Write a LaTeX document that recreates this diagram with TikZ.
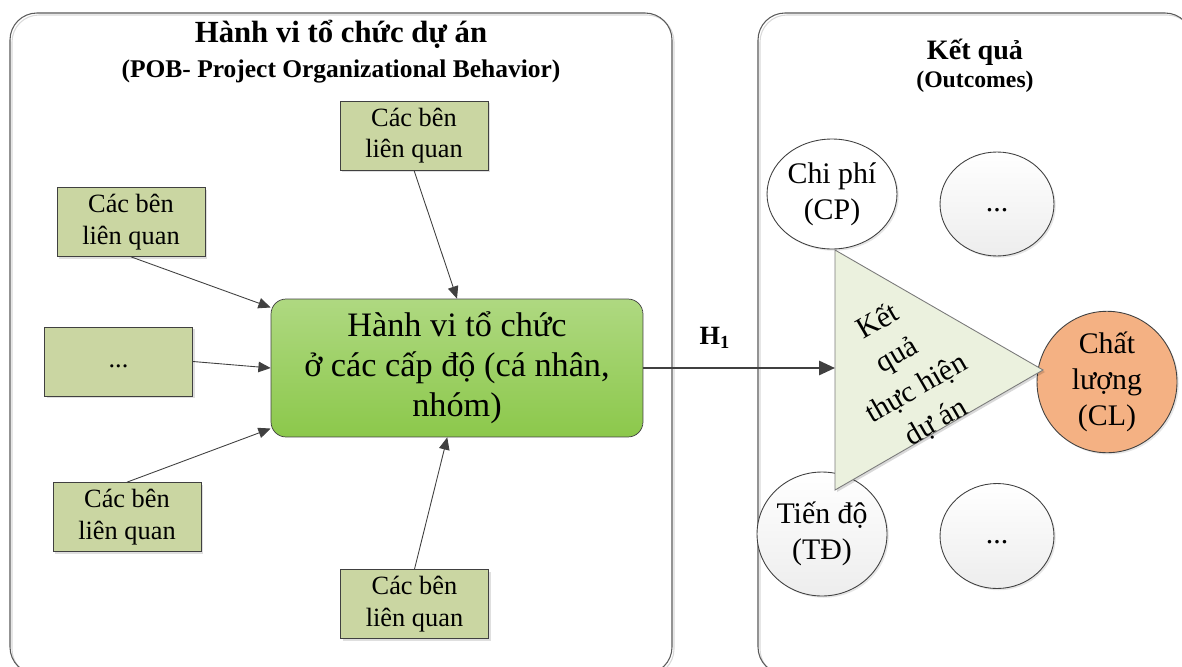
\documentclass[tikz,border=0pt]{standalone}
\usepackage{fontspec}
\setmainfont{Liberation Serif}
\usetikzlibrary{arrows.meta, shapes.geometric, shadows, positioning}
\definecolor{frame}{HTML}{595959}
\definecolor{ghost}{HTML}{D9D9D9}
\definecolor{olive}{HTML}{CAD6A2}
\definecolor{leaf}{HTML}{8CC84B}
\definecolor{pale}{HTML}{EBF1DE}
\definecolor{mist}{HTML}{EDEDED}
\definecolor{peach}{HTML}{F4B183}
\definecolor{ink}{HTML}{404040}
\tikzset{
  panel/.style={draw=frame, line width=0.6pt, rounded corners=0.54cm},
  stake/.style={draw=ink, fill=olive, minimum width=2.96cm, minimum height=1.38cm, inner sep=0pt, align=center,
    font=\fontsize{15}{18}\selectfont, drop shadow={shadow xshift=1.2pt, shadow yshift=-1.2pt, opacity=0.25}},
  core/.style={draw=ink, top color=leaf!70!white, bottom color=leaf, rounded corners=0.3cm, minimum width=7.44cm,
    minimum height=2.76cm, align=center, font=\fontsize{19.5}{22.7}\selectfont},
  oval/.style={ellipse, draw=ink, line width=0.5pt, inner sep=0pt, align=center, font=\fontsize{17}{20.5}\selectfont,
    drop shadow={shadow xshift=1pt, shadow yshift=-1pt, opacity=0.2}},
  feed/.style={draw=ink, line width=0.5pt, -{Triangle[length=7pt, width=6pt]}},
  ttl/.style={font=\fontsize{16}{18}\selectfont\bfseries},
  sub/.style={font=\fontsize{13.5}{16}\selectfont\bfseries}
}

\begin{document}
\begin{tikzpicture}[x=0.02cm, y=-0.02cm]
  \useasboundingbox (0,0) rectangle (1182,666);
  % two panels, cut at the page edge
  \begin{scope}
    \clip (0,0) rectangle (1182,666);
    \foreach \xa/\xb in {10/672, 758/1192}{
      \draw[panel, draw=ghost] (\xa+2,15) rectangle (\xb+2,676);
      \draw[panel] (\xa,13) rectangle (\xb,674);}
  \end{scope}
  \node[ttl, font=\fontsize{17.5}{20}\selectfont\bfseries, anchor=base] (titleL) at (341,42) {Hành vi tổ chức dự án};
  \node[sub, font=\fontsize{14.5}{16}\selectfont\bfseries, anchor=base] (subL) at (341,77) {(POB- Project Organizational Behavior)};
  \node[ttl] (titleR) at (975,52) {Kết quả};
  \node[sub] (subR) at (975,82) {(Outcomes)};

  % behaviour box and the parties around it
  \node[core] (main) at (457,368) {Hành vi tổ chức\\ở các cấp độ (cá nhân,\\nhóm)};
  \foreach \nm/\x/\y/\tx in {sA/414/135.5/{Các bên\\liên quan}, sB/131/222/{Các bên\\liên quan},
      sC/118.5/361.5/{\strut...}, sD/127/517/{Các bên\\liên quan}, sE/414.5/604/{Các bên\\liên quan}}
    \node[stake] (\nm) at (\x,\y) {\tx};
  \foreach \s/\e in {sA.south/main.90, sB.south/main.162, sC.east/main.west, sD.north/main.198, sE.north/main.262}
    \draw[feed] (\s) -- (\e);

  % outcomes
  \node[oval, fill=white, minimum width=2.6cm, minimum height=2.2cm] (cp) at (832,194) {Chi phí\\(CP)};
  \node[oval, top color=white, bottom color=mist, minimum width=2.28cm, minimum height=2.08cm] (o1) at (997,204) {\strut...};
  \node[oval, top color=white, bottom color=mist, minimum width=2.6cm, minimum height=2.48cm] (td) at (822,534) {Tiến độ\\(TĐ)};
  \node[oval, top color=white, bottom color=mist, minimum width=2.28cm, minimum height=2.1cm] (o2) at (997,536) {\strut...};
  \node[oval, fill=peach, minimum width=2.8cm, minimum height=2.6cm] (cl) at (1107,382) {Chất\\lượng\\(CL)};
  \coordinate (tA) at (835,250); \coordinate (tB) at (835,490); \coordinate (tC) at (1043,370);
  \coordinate (kqin) at (835,368);
  \fill[black, opacity=0.15] ([shift={(2,2)}]tA) -- ([shift={(2,2)}]tC) -- ([shift={(2,2)}]tB) -- cycle;
  \draw[draw=frame!80, fill=pale, line width=0.5pt] (tA) -- (tC) -- (tB) -- cycle;
  \node[rotate=30, align=center, font=\fontsize{17}{22}\selectfont] (kq) at (907,372) {Kết\\quả\\thực hiện\\dự án};

  \draw[feed, line width=1.3pt, -{Triangle[length=9pt, width=8pt]}] (main.east) -- (kqin);
  \node[font=\fontsize{15}{18}\selectfont\bfseries] (h1) at (715,338) {H\textsubscript{1}};
\end{tikzpicture}
\end{document}
